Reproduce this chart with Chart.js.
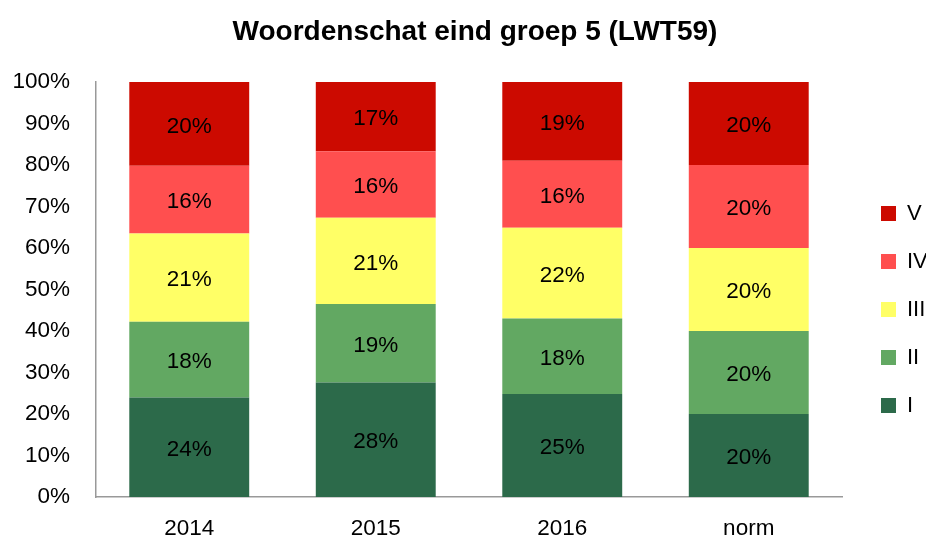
<!DOCTYPE html>
<html lang="nl">
<head>
    <meta charset="UTF-8">
    <title>Woordenschat eind groep 5 (LWT59)</title>
    <script src="https://cdn.jsdelivr.net/npm/chart.js"></script>
    <style>
        html, body { margin: 0; padding: 0; background: #fff; }
        #wrap { width: 926px; height: 543px; }
    </style>
</head>
<body>
<div id="wrap"><canvas id="chart" width="926" height="543"></canvas></div>
<script>
// data (share of pupils per level, %)
const years = ['2014', '2015', '2016', 'norm'];
const levelI   = [24.0, 27.6, 24.8, 20];
const levelII  = [18.2, 18.9, 18.2, 20];
const levelIII = [21.3, 20.8, 21.9, 20];
const levelIV  = [16.3, 16.0, 16.1, 20];
const levelV   = [20.2, 16.7, 19.0, 20];
const levelNames = ['I', 'II', 'III', 'IV', 'V'];
const levelColors = ['#2C6A4A', '#62A862', '#FFFF66', '#FF4F4F', '#CC0A00'];
const yTicks = [0, 10, 20, 30, 40, 50, 60, 70, 80, 90, 100];

const FONT = "'Liberation Sans', Arial, sans-serif";
const series = [levelI, levelII, levelIII, levelIV, levelV];

// percentage labels in the middle of every segment
const segmentLabels = {
    id: 'segmentLabels',
    afterDatasetsDraw(chart) {
        const ctx = chart.ctx;
        ctx.save();
        ctx.font = '22.5px ' + FONT;
        ctx.fillStyle = '#000';
        ctx.textAlign = 'center';
        ctx.textBaseline = 'middle';
        chart.data.datasets.forEach((ds, i) => {
            chart.getDatasetMeta(i).data.forEach((bar, j) => {
                const p = bar.getProps(['x', 'y', 'base'], true);
                ctx.fillText(Math.round(ds.data[j]) + '%', p.x, (p.y + p.base) / 2 + 2.5);
            });
        });
        ctx.restore();
    }
};

// narrow legend pushed to the right edge, title a bit right of centre
const boxPlace = {
    id: 'boxPlace',
    beforeInit(chart) {
        const fit = chart.legend.fit;
        chart.legend.fit = function () {
            fit.call(this);
            this.width = 84;
        };
    },
    afterLayout(chart) {
        chart.legend.left += 13;
        chart.legend.right += 13;
        chart.legend.top += 38;
        chart.legend.bottom += 38;
        chart.titleBlock.left += 12;
        chart.titleBlock.right += 12;
    }
};

new Chart(document.getElementById('chart'), {
    type: 'bar',
    data: {
        labels: years,
        datasets: series.map((vals, i) => ({
            label: levelNames[i],
            data: vals,
            backgroundColor: levelColors[i],
            borderWidth: 0,
            categoryPercentage: 1,
            barPercentage: 0.643
        }))
    },
    options: {
        responsive: false,
        animation: false,
        layout: { padding: 0 },
        plugins: {
            title: {
                display: true,
                text: 'Woordenschat eind groep 5 (LWT59)',
                color: '#000',
                font: { family: FONT, size: 28, weight: 'bold', lineHeight: 1.2 },
                padding: { top: 15.2, bottom: 33.2 }
            },
            legend: {
                position: 'right',
                reverse: true,
                labels: {
                    color: '#000',
                    boxWidth: 15,
                    boxHeight: 15,
                    padding: 26,
                    font: { family: FONT, size: 22 }
                }
            },
            tooltip: { enabled: false }
        },
        scales: {
            x: {
                stacked: true,
                grid: { display: false },
                border: { display: true, color: '#999', width: 1.5 },
                ticks: { color: '#000', padding: 10, font: { family: FONT, size: 22.5 } },
                afterFit(s) { s.height = 46; }
            },
            y: {
                stacked: true,
                min: 0,
                max: 100,
                grid: { display: false },
                border: { display: true, color: '#999', width: 1.5 },
                afterBuildTicks(s) { s.ticks = yTicks.map(v => ({ value: v })); },
                ticks: {
                    color: '#000',
                    padding: 18,
                    font: { family: FONT, size: 22.5 },
                    callback: v => v + '%'
                },
                afterFit(s) { s.width = 96; }
            }
        }
    },
    plugins: [segmentLabels, boxPlace]
});
</script>
</body>
</html>
